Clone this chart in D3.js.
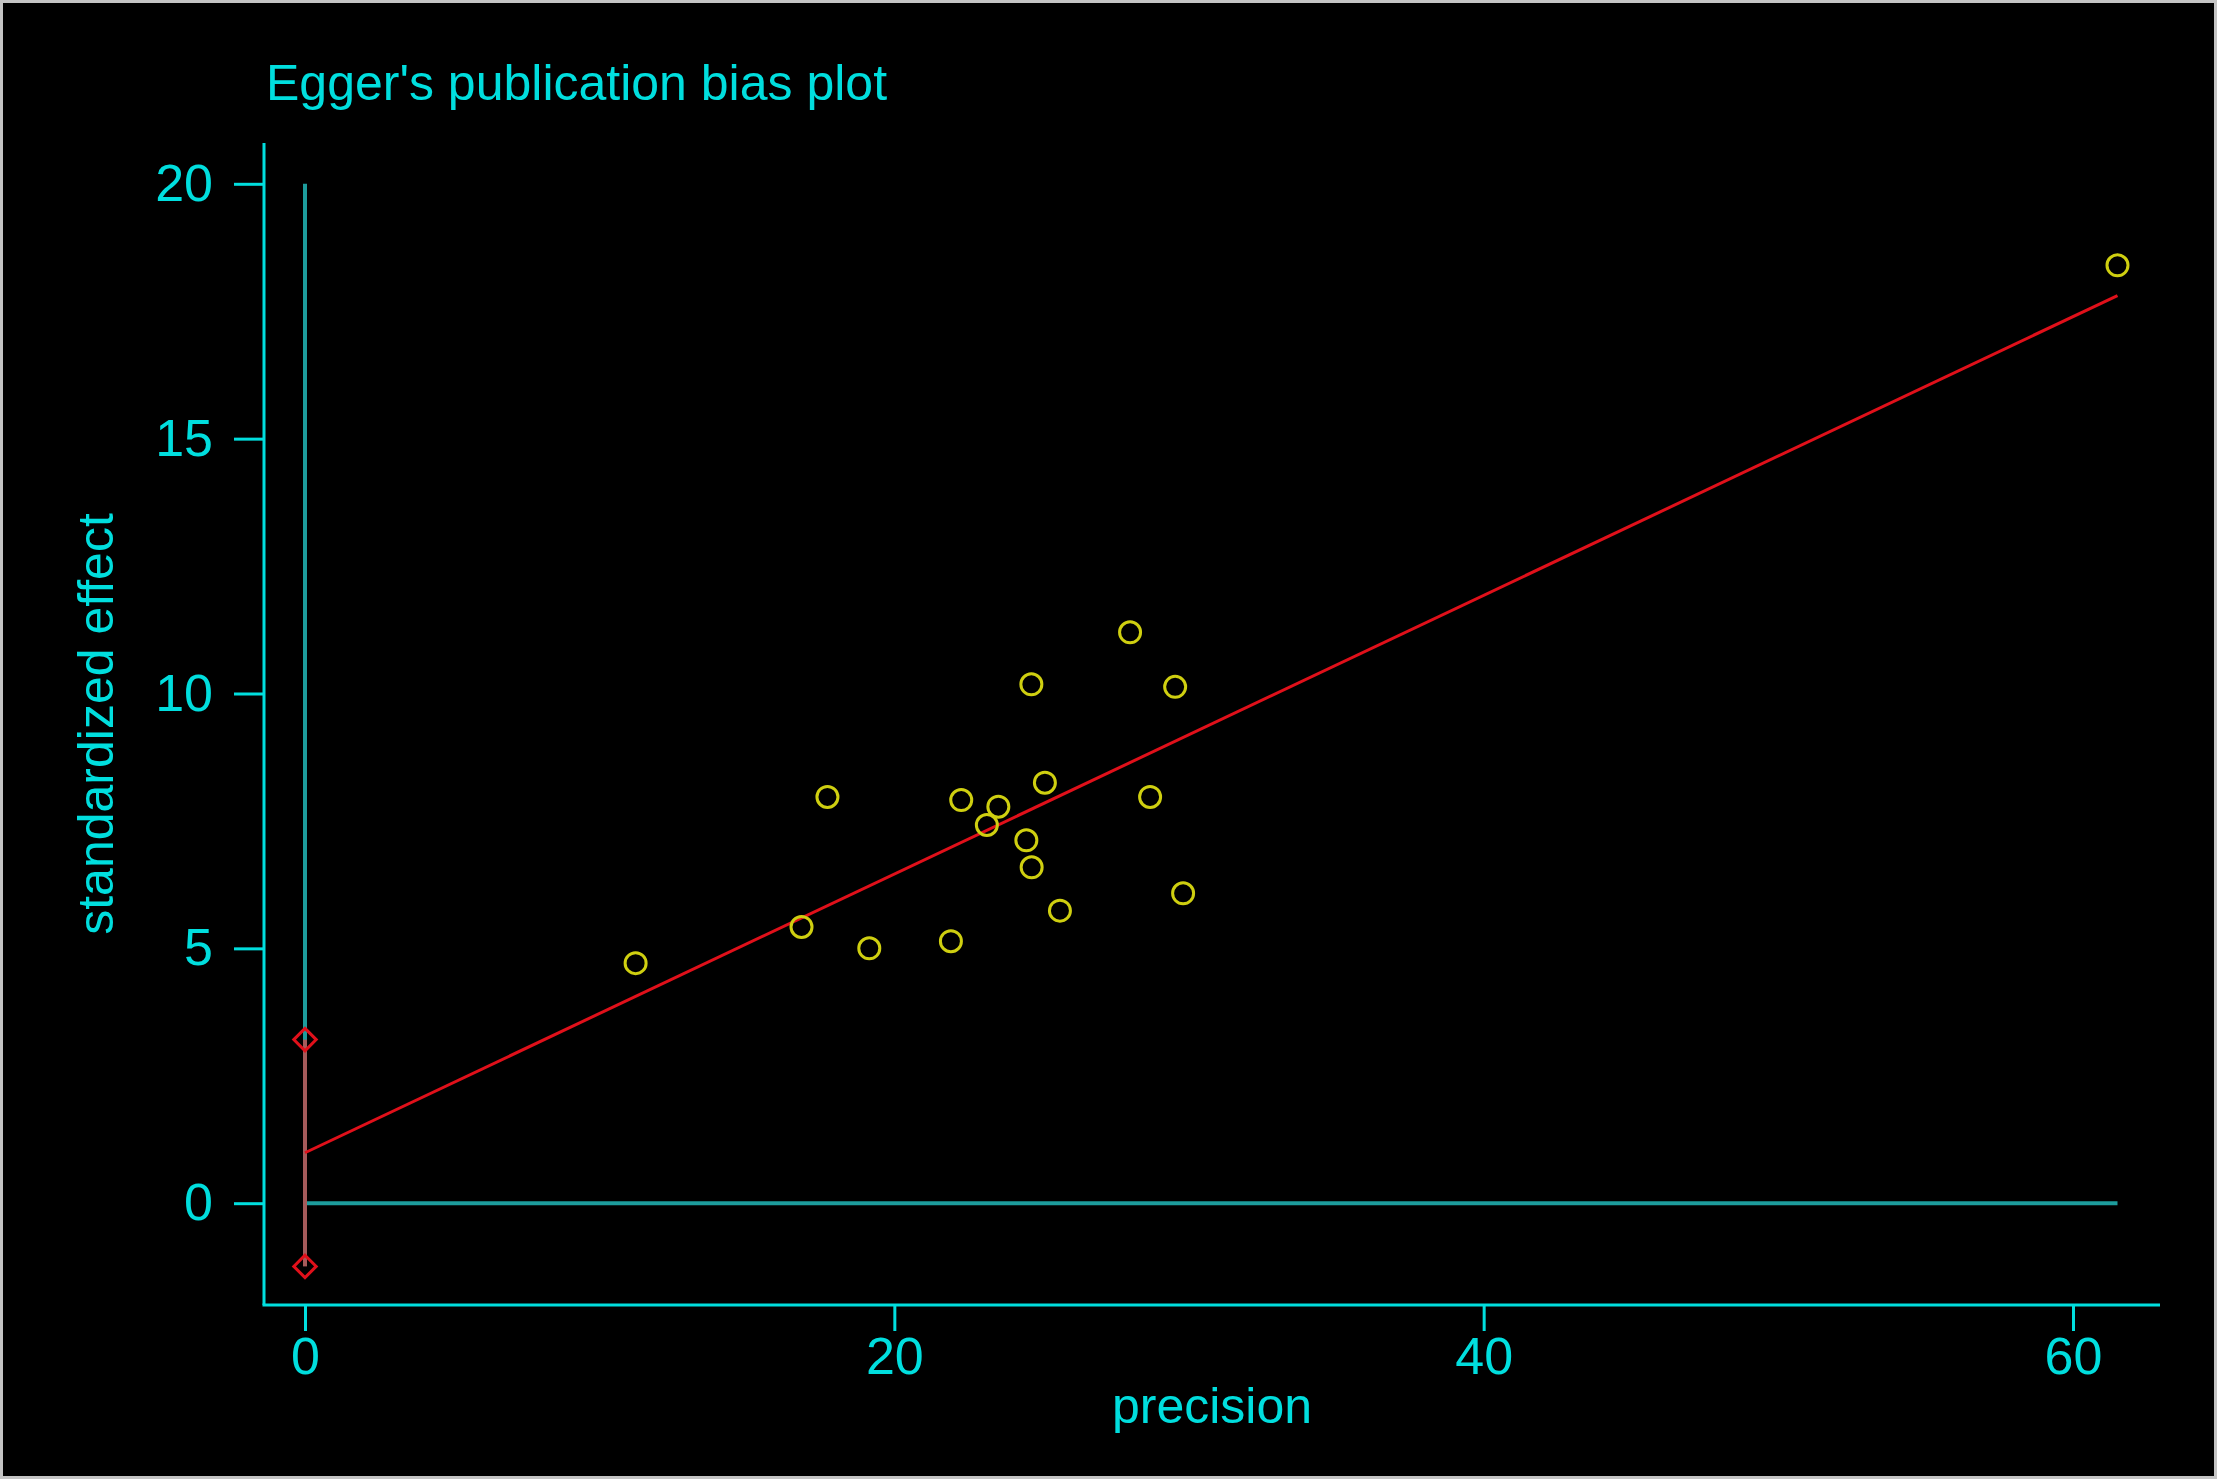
<!DOCTYPE html>
<html>
<head>
<meta charset="utf-8">
<script src="https://cdn.jsdelivr.net/npm/d3@7"></script>
<style>
  html, body { margin: 0; padding: 0; background: #ffffff; }
  svg { display: block; }
  text { font-family: Arial, "Liberation Sans", sans-serif; }
</style>
</head>
<body>
<script>
// ---- data ----
const precision = [11.22, 16.85, 17.73, 19.15, 21.92, 22.27, 23.14, 23.53, 24.48, 24.65, 24.66, 25.11, 25.62, 28.0, 28.68, 29.53, 29.80, 61.51];
const stdEffect = [4.71, 5.42, 7.97, 5.00, 5.14, 7.91, 7.42, 7.78, 7.12, 10.18, 6.59, 8.25, 5.74, 11.20, 7.97, 10.13, 6.08, 18.40];
const regIntercept = 0.99;
const regSlope = 0.2734;
const interceptCI = [-1.24, 3.21];
const xTicks = [0, 20, 40, 60];
const yTicks = [0, 5, 10, 15, 20];
const titleText = "Egger's publication bias plot";
const xLabel = "precision";
const yLabel = "standardized effect";

// ---- layout ----
const W = 2217, H = 1479;
const svg = d3.select("body").append("svg").attr("width", W).attr("height", H);

svg.append("rect").attr("x", 1.5).attr("y", 1.5).attr("width", W - 3).attr("height", H - 3)
  .attr("fill", "#000").attr("stroke", "#c4c4c4").attr("stroke-width", 3);

const x = d3.scaleLinear().domain([0, 60]).range([305, 2073]);
const y = d3.scaleLinear().domain([0, 20]).range([1203.2, 183.8]);

const cyan = "#00dede";
const teal = "#1d9c9c";
const axisX0 = 264, axisY0 = 1305;
const xMax = d3.max(precision);

// axes
const gy = svg.append("g").attr("transform", `translate(${axisX0},0)`)
  .call(d3.axisLeft(y).tickValues(yTicks).tickSize(30).tickPadding(21).tickFormat(d3.format("d")));
gy.select(".domain").remove();
gy.selectAll(".tick line").attr("stroke", cyan).attr("stroke-width", 3);
gy.selectAll(".tick text").attr("fill", cyan).attr("font-size", 52)
  .attr("font-family", "Arial, 'Liberation Sans', sans-serif");

const gx = svg.append("g").attr("transform", `translate(0,${axisY0})`)
  .call(d3.axisBottom(x).tickValues(xTicks).tickSize(26).tickPadding(6).tickFormat(d3.format("d")));
gx.select(".domain").remove();
gx.selectAll(".tick line").attr("stroke", cyan).attr("stroke-width", 3);
gx.selectAll(".tick text").attr("fill", cyan).attr("font-size", 52)
  .attr("font-family", "Arial, 'Liberation Sans', sans-serif");

// axis lines
svg.append("line").attr("x1", axisX0).attr("x2", axisX0).attr("y1", 143).attr("y2", axisY0)
  .attr("stroke", cyan).attr("stroke-width", 3);
svg.append("line").attr("x1", axisX0 - 1.5).attr("x2", 2160).attr("y1", axisY0).attr("y2", axisY0)
  .attr("stroke", cyan).attr("stroke-width", 3);

// reference lines
svg.append("line").attr("x1", x(0)).attr("x2", x(0)).attr("y1", y(20)).attr("y2", y(0))
  .attr("stroke", teal).attr("stroke-width", 4);
svg.append("line").attr("x1", x(0)).attr("x2", x(xMax)).attr("y1", y(0)).attr("y2", y(0))
  .attr("stroke", teal).attr("stroke-width", 4);

// CI of intercept
svg.append("line").attr("x1", x(0)).attr("x2", x(0))
  .attr("y1", y(interceptCI[0])).attr("y2", y(interceptCI[1]))
  .attr("stroke", "#a55a5a").attr("stroke-width", 4);

// regression line
svg.append("line")
  .attr("x1", x(0)).attr("y1", y(regIntercept))
  .attr("x2", x(xMax)).attr("y2", y(regIntercept + regSlope * xMax))
  .attr("stroke", "#e0101a").attr("stroke-width", 3);

// diamonds
const dsym = d3.symbol().type(d3.symbolDiamond2).size(320);
svg.selectAll(".dia").data(interceptCI).enter().append("path")
  .attr("transform", d => `translate(${x(0)},${y(d)})`)
  .attr("d", dsym).attr("fill", "none").attr("stroke", "#e0101a").attr("stroke-width", 3);

// points
svg.selectAll(".pt").data(precision).enter().append("circle")
  .attr("cx", d => x(d)).attr("cy", (d, i) => y(stdEffect[i]))
  .attr("r", 10.5).attr("fill", "none").attr("stroke", "#cfcf10").attr("stroke-width", 3);

// texts
svg.append("text").attr("x", 266).attr("y", 100).attr("fill", cyan).attr("font-size", 50).text(titleText);
svg.append("text").attr("x", 1212).attr("y", 1423).attr("text-anchor", "middle")
  .attr("fill", cyan).attr("font-size", 50).text(xLabel);
svg.append("text").attr("transform", `translate(113,724) rotate(-90)`).attr("text-anchor", "middle")
  .attr("fill", cyan).attr("font-size", 50).text(yLabel);
</script>
</body>
</html>
